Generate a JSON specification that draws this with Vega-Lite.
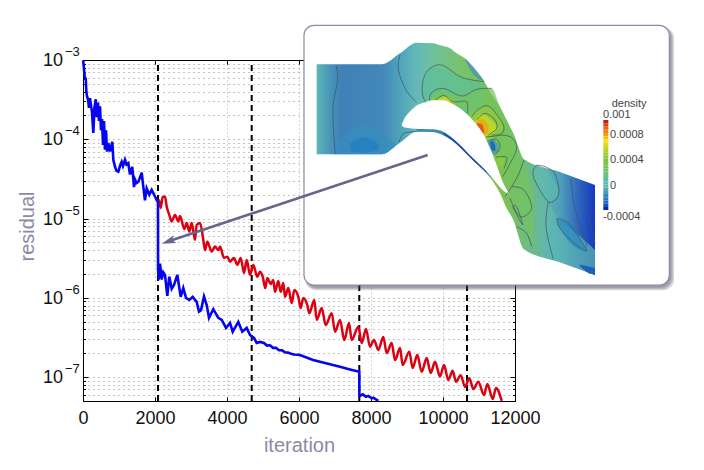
{
  "$schema": "https://vega.github.io/schema/vega-lite/v6.json",
  "description": "Residual history with a density contour inset",
  "autosize": {"type": "none"},
  "padding": {"left": 83, "top": 60, "right": 189, "bottom": 69},
  "width": 432,
  "height": 341,
  "background": "white",
  "config": {"view": {"stroke": null}, "font": "Liberation Sans"},
  "datasets": {
    "red": [
      {"iteration":2083,"residual":1.6e-5},{"iteration":2111,"residual":1.7e-5},{"iteration":2158,"residual":1.36e-5},{"iteration":2214,"residual":1.88e-5},{"iteration":2278,"residual":1.9e-5},{"iteration":2325,"residual":1.42e-5},{"iteration":2397,"residual":1.11e-5},{"iteration":2464,"residual":9.2e-6},{"iteration":2556,"residual":1.11e-5},{"iteration":2647,"residual":9.2e-6},{"iteration":2694,"residual":1.08e-5},{"iteration":2814,"residual":7.4e-6},{"iteration":2881,"residual":8.8e-6},{"iteration":2953,"residual":6.85e-6},{"iteration":3019,"residual":8.8e-6},{"iteration":3111,"residual":5.4e-6},{"iteration":3158,"residual":8.3e-6},{"iteration":3250,"residual":8.8e-6},{"iteration":3342,"residual":5.4e-6},{"iteration":3389,"residual":4.0e-6},{"iteration":3453,"residual":5.1e-6},{"iteration":3575,"residual":3.83e-6},{"iteration":3667,"residual":4.43e-6},{"iteration":3758,"residual":4.0e-6},{"iteration":3806,"residual":4.43e-6},{"iteration":3917,"residual":3.19e-6},{"iteration":4008,"residual":3.31e-6},{"iteration":4083,"residual":2.86e-6},{"iteration":4194,"residual":3.19e-6},{"iteration":4286,"residual":2.6e-6},{"iteration":4381,"residual":3.19e-6},{"iteration":4472,"residual":2.06e-6},{"iteration":4547,"residual":3.0e-6},{"iteration":4639,"residual":1.95e-6},{"iteration":4731,"residual":2.6e-6},{"iteration":4842,"residual":1.84e-6},{"iteration":4917,"residual":2.14e-6},{"iteration":4992,"residual":1.85e-6},{"iteration":5064,"residual":1.33e-6},{"iteration":5119,"residual":1.78e-6},{"iteration":5214,"residual":1.5e-6},{"iteration":5286,"residual":1.68e-6},{"iteration":5333,"residual":1.19e-6},{"iteration":5425,"residual":1.63e-6},{"iteration":5492,"residual":1.19e-6},{"iteration":5564,"residual":1.54e-6},{"iteration":5611,"residual":1.03e-6},{"iteration":5703,"residual":1.33e-6},{"iteration":5797,"residual":8.6e-7},{"iteration":5870,"residual":1.26e-6},{"iteration":5981,"residual":1.03e-6},{"iteration":6047,"residual":7.45e-7},{"iteration":6119,"residual":9.97e-7},{"iteration":6231,"residual":8.1e-7},{"iteration":6286,"residual":6.4e-7},{"iteration":6425,"residual":9.4e-7},{"iteration":6492,"residual":5.26e-7},{"iteration":6631,"residual":7.45e-7},{"iteration":6742,"residual":4.55e-7},{"iteration":6908,"residual":6.4e-7},{"iteration":7000,"residual":3.74e-7},{"iteration":7139,"residual":5.26e-7},{"iteration":7258,"residual":2.94e-7},{"iteration":7389,"residual":4.82e-7},{"iteration":7464,"residual":2.94e-7},{"iteration":7647,"residual":4.33e-7},{"iteration":7742,"residual":2.7e-7},{"iteration":7861,"residual":4.05e-7},{"iteration":7972,"residual":2.42e-7},{"iteration":8083,"residual":2.94e-7},{"iteration":8203,"residual":2.2e-7},{"iteration":8342,"residual":3.2e-7},{"iteration":8436,"residual":2.01e-7},{"iteration":8575,"residual":2.7e-7},{"iteration":8667,"residual":1.64e-7},{"iteration":8806,"residual":2.33e-7},{"iteration":8881,"residual":1.42e-7},{"iteration":9064,"residual":2.09e-7},{"iteration":9158,"residual":1.3e-7},{"iteration":9286,"residual":1.9e-7},{"iteration":9408,"residual":1.17e-7},{"iteration":9547,"residual":1.74e-7},{"iteration":9658,"residual":1.13e-7},{"iteration":9778,"residual":1.56e-7},{"iteration":9917,"residual":1.02e-7},{"iteration":10028,"residual":1.42e-7},{"iteration":10147,"residual":9.2e-8},{"iteration":10269,"residual":1.2e-7},{"iteration":10361,"residual":8.75e-8},{"iteration":10492,"residual":1.06e-7},{"iteration":10611,"residual":7.5e-8},{"iteration":10731,"residual":9.7e-8},{"iteration":10842,"residual":7.07e-8},{"iteration":10981,"residual":8.75e-8},{"iteration":11139,"residual":5.94e-8},{"iteration":11231,"residual":8.2e-8},{"iteration":11381,"residual":5.29e-8},{"iteration":11472,"residual":7.3e-8},{"iteration":11631,"residual":5.03e-8}
    ],
    "blue": [
      {"iteration":5,"residual":9.9e-4},{"iteration":42,"residual":6.5e-4},{"iteration":56,"residual":5.6e-4},{"iteration":75,"residual":6.0e-4},{"iteration":92,"residual":4.0e-4},{"iteration":111,"residual":3.5e-4},{"iteration":139,"residual":3.2e-4},{"iteration":167,"residual":2.5e-4},{"iteration":194,"residual":3.3e-4},{"iteration":222,"residual":2.7e-4},{"iteration":250,"residual":2.2e-4},{"iteration":286,"residual":1.2e-4},{"iteration":319,"residual":2.5e-4},{"iteration":353,"residual":3.2e-4},{"iteration":383,"residual":1.9e-4},{"iteration":417,"residual":2.9e-4},{"iteration":444,"residual":1.7e-4},{"iteration":472,"residual":2.6e-4},{"iteration":500,"residual":1.3e-4},{"iteration":528,"residual":1.8e-4},{"iteration":556,"residual":8.5e-5},{"iteration":583,"residual":1.7e-4},{"iteration":611,"residual":7.4e-5},{"iteration":639,"residual":1.3e-4},{"iteration":667,"residual":7.0e-5},{"iteration":703,"residual":9.0e-5},{"iteration":750,"residual":7.0e-5},{"iteration":814,"residual":9.3e-5},{"iteration":842,"residual":5.5e-5},{"iteration":889,"residual":4.5e-5},{"iteration":931,"residual":4.0e-5},{"iteration":981,"residual":3.9e-5},{"iteration":1028,"residual":4.6e-5},{"iteration":1075,"residual":5.2e-5},{"iteration":1111,"residual":4.6e-5},{"iteration":1167,"residual":5.5e-5},{"iteration":1208,"residual":4.8e-5},{"iteration":1258,"residual":5.0e-5},{"iteration":1306,"residual":3.6e-5},{"iteration":1369,"residual":4.5e-5},{"iteration":1417,"residual":2.5e-5},{"iteration":1444,"residual":3.1e-5},{"iteration":1486,"residual":2.8e-5},{"iteration":1536,"residual":2.9e-5},{"iteration":1631,"residual":3.8e-5},{"iteration":1667,"residual":2.7e-5},{"iteration":1722,"residual":1.7e-5},{"iteration":1769,"residual":2.4e-5},{"iteration":1842,"residual":2.0e-5},{"iteration":1908,"residual":2.3e-5},{"iteration":2000,"residual":1.9e-5},{"iteration":2083,"residual":1.6e-5},{"iteration":2085,"residual":2.4e-6},{"iteration":2100,"residual":1.7e-6},{"iteration":2139,"residual":2.7e-6},{"iteration":2186,"residual":1.7e-6},{"iteration":2231,"residual":2.1e-6},{"iteration":2278,"residual":1.95e-6},{"iteration":2342,"residual":1.06e-6},{"iteration":2397,"residual":1.85e-6},{"iteration":2464,"residual":1.3e-6},{"iteration":2528,"residual":1.45e-6},{"iteration":2620,"residual":1.95e-6},{"iteration":2714,"residual":1.03e-6},{"iteration":2786,"residual":1.33e-6},{"iteration":2861,"residual":1.0e-6},{"iteration":2953,"residual":9.4e-7},{"iteration":3047,"residual":1.03e-6},{"iteration":3158,"residual":8.9e-7},{"iteration":3222,"residual":6.7e-7},{"iteration":3278,"residual":7.0e-7},{"iteration":3361,"residual":1.04e-6},{"iteration":3436,"residual":8.1e-7},{"iteration":3500,"residual":5.6e-7},{"iteration":3620,"residual":7.2e-7},{"iteration":3758,"residual":5.6e-7},{"iteration":3853,"residual":5.26e-7},{"iteration":3972,"residual":4.17e-7},{"iteration":4083,"residual":4.83e-7},{"iteration":4158,"residual":3.74e-7},{"iteration":4314,"residual":4.97e-7},{"iteration":4425,"residual":3.74e-7},{"iteration":4547,"residual":4.17e-7},{"iteration":4639,"residual":3.4e-7},{"iteration":4750,"residual":3.12e-7},{"iteration":4825,"residual":2.7e-7},{"iteration":4917,"residual":2.78e-7},{"iteration":5028,"residual":2.7e-7},{"iteration":5111,"residual":2.5e-7},{"iteration":5194,"residual":2.52e-7},{"iteration":5278,"residual":2.34e-7},{"iteration":5361,"residual":2.34e-7},{"iteration":5444,"residual":2.18e-7},{"iteration":5528,"residual":2.18e-7},{"iteration":5611,"residual":2.06e-7},{"iteration":5694,"residual":2.04e-7},{"iteration":5778,"residual":1.97e-7},{"iteration":5861,"residual":1.93e-7},{"iteration":6028,"residual":1.9e-7},{"iteration":6389,"residual":1.65e-7},{"iteration":6778,"residual":1.49e-7},{"iteration":7139,"residual":1.35e-7},{"iteration":7417,"residual":1.25e-7},{"iteration":7675,"residual":1.17e-7},{"iteration":7677,"residual":5.8e-8},{"iteration":7695,"residual":5.8e-8},{"iteration":7770,"residual":6.06e-8},{"iteration":7861,"residual":5.66e-8},{"iteration":7925,"residual":5.8e-8},{"iteration":8020,"residual":5.4e-8},{"iteration":8065,"residual":5.5e-8},{"iteration":8203,"residual":5.03e-8}
    ],
    "phases": [
      {"iteration":2083,"residual":5e-8,"top":1e-3},
      {"iteration":4686,"residual":5e-8,"top":1e-3},
      {"iteration":7675,"residual":5e-8,"top":1e-3},
      {"iteration":10667,"residual":5e-8,"top":1e-3}
    ],
    "decades": [
      {"iteration":0,"residual":1e-3,"base":"10","power":"−3"},
      {"iteration":0,"residual":1e-4,"base":"10","power":"−4"},
      {"iteration":0,"residual":1e-5,"base":"10","power":"−5"},
      {"iteration":0,"residual":1e-6,"base":"10","power":"−6"},
      {"iteration":0,"residual":1e-7,"base":"10","power":"−7"}
    ],
    "shadow": [
      {"u":16,"u2":1122,"v":22,"v2":811},
      {"u":16,"u2":1118,"v":22,"v2":807},
      {"u":16,"u2":1114,"v":22,"v2":803}
    ],
    "panel": [{"u":12,"u2":1108,"v":16,"v2":795}],
    "passage": [
      {"u":50,"v":133,"v2":403},{"u":245,"v":133,"v2":403},{"u":300,"v":100,"v2":368},{"u":350,"v":68,"v2":335},{"u":400,"v":70,"v2":336},{"u":420,"v":76,"v2":342},{"u":450,"v":85,"v2":357},{"u":470,"v":100,"v2":372},{"u":500,"v":120,"v2":402},{"u":520,"v":143,"v2":422},{"u":550,"v":180,"v2":450},{"u":570,"v":215,"v2":472},{"u":600,"v":260,"v2":520},{"u":620,"v":300,"v2":565},{"u":640,"v":340,"v2":600},{"u":672,"v":418,"v2":688},{"u":780,"v":456,"v2":727},{"u":885,"v":495,"v2":765}
    ],
    "patches": [
      {"g":"ur","density":-0.00012,"u":495,"v":115,"v2":120},{"g":"ur","density":-0.00012,"u":520,"v":140,"v2":163},{"g":"ur","density":-0.00012,"u":552,"v":182,"v2":184},
      {"g":"blob1","density":-0.00014,"u":110,"v":385,"v2":403},{"g":"blob1","density":-0.00014,"u":150,"v":330,"v2":403},{"g":"blob1","density":-0.00014,"u":200,"v":315,"v2":403},{"g":"blob1","density":-0.00014,"u":245,"v":335,"v2":403},{"g":"blob1","density":-0.00014,"u":285,"v":372,"v2":376},
      {"g":"blob2","density":-0.00019,"u":150,"v":370,"v2":392},{"g":"blob2","density":-0.00019,"u":190,"v":352,"v2":398},{"g":"blob2","density":-0.00019,"u":235,"v":372,"v2":390},
      {"g":"g1","density":0.00012,"u":368,"v":190,"v2":245},{"g":"g1","density":0.00012,"u":400,"v":140,"v2":245},{"g":"g1","density":0.00012,"u":450,"v":155,"v2":255},{"g":"g1","density":0.00012,"u":500,"v":178,"v2":285},{"g":"g1","density":0.00012,"u":550,"v":190,"v2":345},
      {"g":"g2","density":0.0003,"u":388,"v":232,"v2":240},{"g":"g2","density":0.0003,"u":425,"v":208,"v2":245},{"g":"g2","density":0.0003,"u":480,"v":228,"v2":272},{"g":"g2","density":0.0003,"u":530,"v":208,"v2":320},{"g":"g2","density":0.0003,"u":575,"v":205,"v2":360},{"g":"g2","density":0.0003,"u":600,"v":262,"v2":400},{"g":"g2","density":0.0003,"u":635,"v":335,"v2":470},{"g":"g2","density":0.0003,"u":660,"v":395,"v2":560},{"g":"g2","density":0.0003,"u":700,"v":520,"v2":680},
      {"g":"y1","density":0.00048,"u":395,"v":238,"v2":240},{"g":"y1","density":0.00048,"u":430,"v":226,"v2":245},{"g":"y1","density":0.00048,"u":468,"v":245,"v2":258},
      {"g":"y2","density":0.00064,"u":415,"v":238,"v2":240},{"g":"y2","density":0.00064,"u":435,"v":232,"v2":243},{"g":"y2","density":0.00064,"u":452,"v":242,"v2":248},
      {"g":"h1","density":0.00046,"u":510,"v":285,"v2":300},{"g":"h1","density":0.00046,"u":530,"v":270,"v2":345},{"g":"h1","density":0.00046,"u":560,"v":260,"v2":362},{"g":"h1","density":0.00046,"u":590,"v":285,"v2":345},{"g":"h1","density":0.00046,"u":612,"v":318,"v2":326},
      {"g":"h2","density":0.00062,"u":525,"v":300,"v2":320},{"g":"h2","density":0.00062,"u":545,"v":282,"v2":350},{"g":"h2","density":0.00062,"u":570,"v":296,"v2":346},{"g":"h2","density":0.00062,"u":590,"v":318,"v2":326},
      {"g":"h3","density":0.0008,"u":530,"v":305,"v2":325},{"g":"h3","density":0.0008,"u":545,"v":296,"v2":345},{"g":"h3","density":0.0008,"u":565,"v":318,"v2":340},
      {"g":"h4","density":0.00096,"u":530,"v":310,"v2":320},{"g":"h4","density":0.00096,"u":545,"v":312,"v2":338},{"g":"h4","density":0.00096,"u":552,"v":330,"v2":340},
      {"g":"cold","density":-0.00012,"u":562,"v":362,"v2":370},{"g":"cold","density":-0.00012,"u":578,"v":358,"v2":402},{"g":"cold","density":-0.00012,"u":596,"v":378,"v2":395},
      {"g":"cold2","density":-0.0003,"u":570,"v":366,"v2":372},{"g":"cold2","density":-0.0003,"u":578,"v":363,"v2":392},{"g":"cold2","density":-0.0003,"u":586,"v":378,"v2":392},
      {"g":"y3","density":0.00045,"u":590,"v":418,"v2":428},{"g":"y3","density":0.00045,"u":600,"v":406,"v2":440},{"g":"y3","density":0.00045,"u":612,"v":420,"v2":430},
      {"g":"band1","density":-0.00022,"u":350,"v":325,"v2":335},{"g":"band1","density":-0.00022,"u":400,"v":327,"v2":336},{"g":"band1","density":-0.00022,"u":450,"v":348,"v2":357},{"g":"band1","density":-0.00022,"u":500,"v":395,"v2":402},{"g":"band1","density":-0.00022,"u":550,"v":440,"v2":450},{"g":"band1","density":-0.00022,"u":575,"v":468,"v2":475},
      {"g":"band2","density":-0.0004,"u":430,"v":337,"v2":342},{"g":"band2","density":-0.0004,"u":470,"v":365,"v2":372},{"g":"band2","density":-0.0004,"u":520,"v":412,"v2":422},{"g":"band2","density":-0.0004,"u":560,"v":452,"v2":458},
      {"g":"lens","density":0.00004,"u":698,"v":435,"v2":445},{"g":"lens","density":0.00004,"u":720,"v":445,"v2":510},{"g":"lens","density":0.00004,"u":745,"v":462,"v2":545},{"g":"lens","density":0.00004,"u":775,"v":505,"v2":525},
      {"g":"w2","density":0.00002,"u":740,"v":545,"v2":712},{"g":"w2","density":0.00002,"u":780,"v":600,"v2":727},{"g":"w2","density":0.00002,"u":830,"v":640,"v2":745},{"g":"w2","density":0.00002,"u":885,"v":690,"v2":765},
      {"g":"r2","density":-0.00016,"u":772,"v":598,"v2":612},{"g":"r2","density":-0.00016,"u":810,"v":612,"v2":668},{"g":"r2","density":-0.00016,"u":850,"v":672,"v2":692},{"g":"r2","density":-0.00016,"u":862,"v":690,"v2":694},
      {"g":"r3","density":-0.00032,"u":838,"v":734,"v2":736},{"g":"r3","density":-0.00032,"u":860,"v":738,"v2":755},{"g":"r3","density":-0.00032,"u":885,"v":745,"v2":765}
    ],
    "blade": [
      {"u":305,"v":315,"v2":316},{"u":312,"v":298,"v2":322},{"u":325,"v":280,"v2":324},{"u":345,"v":260,"v2":326},{"u":370,"v":248,"v2":327},{"u":400,"v":241,"v2":328},{"u":430,"v":241,"v2":335},{"u":450,"v":248,"v2":348},{"u":475,"v":262,"v2":370},{"u":500,"v":282,"v2":395},{"u":525,"v":308,"v2":420},{"u":550,"v":342,"v2":444},{"u":570,"v":385,"v2":466},{"u":590,"v":435,"v2":490},{"u":610,"v":490,"v2":512},{"u":625,"v":516,"v2":522}
    ],
    "contours": [
      {"c":"a","i":0,"u":108,"v":135},{"c":"a","i":1,"u":113,"v":180},{"c":"a","i":2,"u":100,"v":250},{"c":"a","i":3,"u":100,"v":320},{"c":"a","i":4,"u":106,"v":403},
      {"c":"b","i":0,"u":300,"v":105},{"c":"b","i":1,"u":295,"v":150},{"c":"b","i":2,"u":318,"v":210},{"c":"b","i":3,"u":350,"v":248},
      {"c":"c","i":0,"u":552,"v":185},{"c":"c","i":1,"u":485,"v":172},{"c":"c","i":2,"u":425,"v":135},{"c":"c","i":3,"u":385,"v":150},{"c":"c","i":4,"u":368,"v":185},{"c":"c","i":5,"u":368,"v":225},{"c":"c","i":6,"u":378,"v":248},
      {"c":"d","i":0,"u":575,"v":205},{"c":"d","i":1,"u":530,"v":208},{"c":"d","i":2,"u":485,"v":228},{"c":"d","i":3,"u":430,"v":205},{"c":"d","i":4,"u":395,"v":218},{"c":"d","i":5,"u":388,"v":242},
      {"c":"e","i":0,"u":405,"v":240},{"c":"e","i":1,"u":432,"v":226},{"c":"e","i":2,"u":460,"v":245},{"c":"e","i":3,"u":500,"v":245},{"c":"e","i":4,"u":502,"v":280},
      {"c":"f","i":0,"u":515,"v":290},{"c":"f","i":1,"u":535,"v":268},{"c":"f","i":2,"u":565,"v":258},{"c":"f","i":3,"u":595,"v":290},{"c":"f","i":4,"u":612,"v":322},{"c":"f","i":5,"u":600,"v":345},{"c":"f","i":6,"u":560,"v":350},
      {"c":"f2","i":0,"u":530,"v":300},{"c":"f2","i":1,"u":555,"v":280},{"c":"f2","i":2,"u":585,"v":300},{"c":"f2","i":3,"u":590,"v":325},{"c":"f2","i":4,"u":565,"v":345},
      {"c":"g","i":0,"u":350,"v":335},{"c":"g","i":1,"u":312,"v":340},{"c":"g","i":2,"u":297,"v":366},
      {"c":"h","i":0,"u":568,"v":362},{"c":"h","i":1,"u":590,"v":358},{"c":"h","i":2,"u":600,"v":382},{"c":"h","i":3,"u":585,"v":405},
      {"c":"j","i":0,"u":575,"v":345},{"c":"j","i":1,"u":630,"v":350},{"c":"j","i":2,"u":650,"v":385},{"c":"j","i":3,"u":625,"v":440},{"c":"j","i":4,"u":608,"v":470},
      {"c":"k","i":0,"u":588,"v":412},{"c":"k","i":1,"u":620,"v":412},{"c":"k","i":2,"u":612,"v":445},
      {"c":"l","i":0,"u":672,"v":420},{"c":"l","i":1,"u":655,"v":465},{"c":"l","i":2,"u":635,"v":500},{"c":"l","i":3,"u":615,"v":530},
      {"c":"m","i":0,"u":635,"v":500},{"c":"m","i":1,"u":672,"v":510},{"c":"m","i":2,"u":695,"v":565},{"c":"m","i":3,"u":660,"v":590},{"c":"m","i":4,"u":630,"v":535},
      {"c":"n","i":0,"u":638,"v":560},{"c":"n","i":1,"u":668,"v":615},{"c":"n","i":2,"u":650,"v":560},{"c":"n","i":3,"u":638,"v":560},
      {"c":"o","i":0,"u":650,"v":620},{"c":"o","i":1,"u":680,"v":640},{"c":"o","i":2,"u":695,"v":680},
      {"c":"p","i":0,"u":708,"v":436},{"c":"p","i":1,"u":700,"v":470},{"c":"p","i":2,"u":745,"v":545},{"c":"p","i":3,"u":776,"v":522},{"c":"p","i":4,"u":765,"v":462},{"c":"p","i":5,"u":735,"v":440},{"c":"p","i":6,"u":708,"v":436},
      {"c":"q","i":0,"u":745,"v":545},{"c":"q","i":1,"u":738,"v":620},{"c":"q","i":2,"u":760,"v":718},
      {"c":"r","i":0,"u":770,"v":596},{"c":"r","i":1,"u":805,"v":610},{"c":"r","i":2,"u":860,"v":690},{"c":"r","i":3,"u":825,"v":672},{"c":"r","i":4,"u":780,"v":625},{"c":"r","i":5,"u":770,"v":596},
      {"c":"s","i":0,"u":812,"v":476},{"c":"s","i":1,"u":825,"v":565},{"c":"s","i":2,"u":862,"v":680},
      {"c":"t","i":0,"u":845,"v":490},{"c":"t","i":1,"u":868,"v":590},{"c":"t","i":2,"u":885,"v":672},
      {"c":"w","i":0,"u":840,"v":736},{"c":"w","i":1,"u":870,"v":762}
    ],
    "colorbar": [
      {"density":0.001,"u":910,"u2":925,"v":300,"v2":310},{"density":0.00095,"u":910,"u2":925,"v":310,"v2":320},{"density":0.0009,"u":910,"u2":925,"v":320,"v2":329},{"density":0.00085,"u":910,"u2":925,"v":329,"v2":339},{"density":0.0008,"u":910,"u2":925,"v":339,"v2":349},{"density":0.00075,"u":910,"u2":925,"v":349,"v2":358},{"density":0.0007,"u":910,"u2":925,"v":358,"v2":368},{"density":0.00065,"u":910,"u2":925,"v":368,"v2":378},{"density":0.0006,"u":910,"u2":925,"v":378,"v2":387},{"density":0.00055,"u":910,"u2":925,"v":387,"v2":397},{"density":0.0005,"u":910,"u2":925,"v":397,"v2":407},{"density":0.00045,"u":910,"u2":925,"v":407,"v2":416},{"density":0.0004,"u":910,"u2":925,"v":416,"v2":426},{"density":0.00035,"u":910,"u2":925,"v":426,"v2":436},{"density":0.0003,"u":910,"u2":925,"v":436,"v2":445},{"density":0.00025,"u":910,"u2":925,"v":445,"v2":455},{"density":0.0002,"u":910,"u2":925,"v":455,"v2":465},{"density":0.00015,"u":910,"u2":925,"v":465,"v2":474},{"density":0.0001,"u":910,"u2":925,"v":474,"v2":484},{"density":0.00005,"u":910,"u2":925,"v":484,"v2":494},{"density":0,"u":910,"u2":925,"v":494,"v2":503},{"density":-0.00005,"u":910,"u2":925,"v":503,"v2":513},{"density":-0.0001,"u":910,"u2":925,"v":513,"v2":522},{"density":-0.00015,"u":910,"u2":925,"v":522,"v2":532},{"density":-0.0002,"u":910,"u2":925,"v":532,"v2":542},{"density":-0.00025,"u":910,"u2":925,"v":542,"v2":551},{"density":-0.0003,"u":910,"u2":925,"v":551,"v2":561},{"density":-0.0004,"u":910,"u2":925,"v":561,"v2":570}
    ],
    "colorbarText": [
      {"label":"density","u":935,"v":251},
      {"label":"0.001","u":909,"v":286},
      {"label":"0.0008","u":930,"v":344},
      {"label":"0.0004","u":930,"v":421},
      {"label":"0","u":930,"v":498},
      {"label":"-0.0004","u":909,"v":591}
    ],
    "pointer": [{"u":-385,"v":661},{"u":383,"v":405}],
    "pointerHead": [{"u":-394,"v":664}]
  },
  "resolve": {"scale": {"x": "independent", "y": "independent", "color": "independent"}},
  "layer": [
    {
      "encoding": {
        "x": {
          "field": "iteration",
          "type": "quantitative",
          "scale": {"domain": [0, 12000], "nice": false, "zero": false},
          "axis": {
            "title": "iteration",
            "titleFontSize": 20,
            "titleFontWeight": "normal",
            "titleColor": "#8a8aa6",
            "titlePadding": 8,
            "values": [0, 2000, 4000, 6000, 8000, 10000, 12000],
            "format": "d",
            "labelFontSize": 18,
            "labelColor": "#111",
            "labelPadding": 12,
            "labelFlush": false,
            "labelOverlap": false,
            "labelBound": false,
            "tickSize": -4,
            "tickColor": "#000",
            "domainColor": "#000",
            "grid": true,
            "gridColor": "#aaa",
            "gridDash": [1, 3]
          }
        },
        "y": {
          "field": "residual",
          "type": "quantitative",
          "scale": {"type": "log", "domain": [5e-8, 1e-3], "nice": false},
          "axis": {
            "title": "residual",
            "titleFontSize": 20,
            "titleFontWeight": "normal",
            "titleColor": "#8a8aa6",
            "titlePadding": 45,
            "titleY": 166,
            "labels": false,
            "values": [5e-8,6e-8,7e-8,8e-8,9e-8,1e-7,2e-7,3e-7,4e-7,5e-7,6e-7,7e-7,8e-7,9e-7,1e-6,2e-6,3e-6,4e-6,5e-6,6e-6,7e-6,8e-6,9e-6,1e-5,2e-5,3e-5,4e-5,5e-5,6e-5,7e-5,8e-5,9e-5,1e-4,2e-4,3e-4,4e-4,5e-4,6e-4,7e-4,8e-4,9e-4,1e-3],
            "tickSize": {"condition": {"test": "abs(log(datum.value)/LN10-round(log(datum.value)/LN10))<0.01", "value": -5}, "value": -2.5},
            "tickColor": "#000",
            "domainColor": "#000",
            "grid": true,
            "gridColor": "#8c8c8c",
            "gridDash": [1, 4]
          }
        }
      },
      "layer": [
        {
          "data": {"name": "phases"},
          "mark": {"type": "rule", "color": "#000", "strokeWidth": 2, "strokeDash": [6, 4]},
          "encoding": {"y2": {"field": "top"}}
        },
        {
          "data": {"name": "red"},
          "mark": {"type": "line", "color": "#dd0010", "strokeWidth": 2.5, "interpolate": "monotone"}
        },
        {
          "data": {"name": "blue"},
          "mark": {"type": "line", "color": "#0404f0", "strokeWidth": 2.6}
        },
        {
          "data": {"name": "decades"},
          "mark": {"type": "text", "align": "right", "baseline": "middle", "fontSize": 18, "color": "#111", "dx": -20, "dy": 1},
          "encoding": {"text": {"field": "base"}}
        },
        {
          "data": {"name": "decades"},
          "mark": {"type": "text", "align": "left", "baseline": "middle", "fontSize": 13, "color": "#111", "dx": -18, "dy": -8},
          "encoding": {"text": {"field": "power"}}
        }
      ]
    },
    {
      "data": {"name": "decades"},
      "mark": {"type": "point", "opacity": 0},
      "encoding": {
        "x": {
          "field": "iteration",
          "type": "quantitative",
          "scale": {"domain": [0, 12000], "nice": false, "zero": false},
          "axis": {"orient": "top", "title": null, "labels": false, "values": [0, 2000, 4000, 6000, 8000, 10000, 12000], "tickSize": -4, "tickColor": "#000", "domainColor": "#000", "grid": false}
        },
        "y": {
          "field": "residual",
          "type": "quantitative",
          "scale": {"type": "log", "domain": [5e-8, 1e-3], "nice": false},
          "axis": {
            "orient": "right",
            "title": null,
            "labels": false,
            "values": [5e-8,6e-8,7e-8,8e-8,9e-8,1e-7,2e-7,3e-7,4e-7,5e-7,6e-7,7e-7,8e-7,9e-7,1e-6,2e-6,3e-6,4e-6,5e-6,6e-6,7e-6,8e-6,9e-6,1e-5,2e-5,3e-5,4e-5,5e-5,6e-5,7e-5,8e-5,9e-5,1e-4,2e-4,3e-4,4e-4,5e-4,6e-4,7e-4,8e-4,9e-4,1e-3],
            "tickSize": {"condition": {"test": "abs(log(datum.value)/LN10-round(log(datum.value)/LN10))<0.01", "value": -5}, "value": -2.5},
            "tickColor": "#000",
            "domainColor": "#000",
            "grid": false
          }
        }
      }
    },
    {
      "encoding": {
        "x": {"field": "u", "type": "quantitative", "axis": null, "scale": {"domain": [-651, 645], "nice": false, "zero": false}},
        "y": {"field": "v", "type": "quantitative", "axis": null, "scale": {"domain": [1143, 120], "nice": false, "zero": false}}
      },
      "layer": [
        {
          "data": {"name": "shadow"},
          "mark": {"type": "rect", "color": "#445", "opacity": 0.22, "cornerRadius": 11},
          "encoding": {"x2": {"field": "u2"}, "y2": {"field": "v2"}}
        },
        {
          "data": {"name": "panel"},
          "mark": {"type": "rect", "fill": "white", "stroke": "#8a8aa6", "strokeWidth": 1.2, "cornerRadius": 10},
          "encoding": {"x2": {"field": "u2"}, "y2": {"field": "v2"}}
        },
        {
          "data": {"name": "passage"},
          "mark": {
            "type": "area",
            "interpolate": "monotone",
            "fill": {
              "gradient": "linear", "x1": 0, "x2": 1, "y1": 0, "y2": 0,
              "stops": [
                {"offset": 0, "color": "#5fb6b6"},
                {"offset": 0.05, "color": "#4694b8"},
                {"offset": 0.09, "color": "#3f80b8"},
                {"offset": 0.24, "color": "#4388ba"},
                {"offset": 0.3, "color": "#50a4bb"},
                {"offset": 0.36, "color": "#64b9b8"},
                {"offset": 0.42, "color": "#70c09c"},
                {"offset": 0.52, "color": "#78c26c"},
                {"offset": 0.66, "color": "#7cc24c"},
                {"offset": 0.74, "color": "#72be74"},
                {"offset": 0.82, "color": "#62b6a8"},
                {"offset": 0.88, "color": "#4c9cbc"},
                {"offset": 0.94, "color": "#2f66be"},
                {"offset": 1, "color": "#1438c0"}
              ]
            }
          },
          "encoding": {"y2": {"field": "v2"}}
        },
        {
          "data": {"name": "patches"},
          "mark": {"type": "area", "interpolate": "monotone", "opacity": 0.7},
          "encoding": {
            "y2": {"field": "v2"},
            "detail": {"field": "g"},
            "color": {
              "field": "density",
              "type": "quantitative",
              "legend": null,
              "scale": {
                "domain": [-0.0004, -0.00025, -0.0001, 0, 0.0002, 0.0004, 0.0006, 0.0007, 0.00085, 0.001],
                "range": ["#0a22c4", "#2f66be", "#4a9abb", "#63b8b8", "#72c07a", "#80c440", "#c8d820", "#f0e020", "#f08018", "#c81818"]
              }
            }
          }
        },
        {
          "data": {"name": "blade"},
          "mark": {"type": "area", "interpolate": "monotone", "fill": "white"},
          "encoding": {"y2": {"field": "v2"}}
        },
        {
          "data": {"name": "contours"},
          "mark": {"type": "line", "interpolate": "cardinal", "color": "#3d5560", "strokeWidth": 0.9, "opacity": 0.8},
          "encoding": {"detail": {"field": "c"}, "order": {"field": "i"}}
        },
        {
          "data": {"name": "colorbar"},
          "mark": {"type": "rect"},
          "encoding": {
            "x2": {"field": "u2"},
            "y2": {"field": "v2"},
            "color": {"field": "density", "type": "quantitative", "legend": null}
          }
        },
        {
          "data": {"name": "colorbarText"},
          "mark": {"type": "text", "align": "left", "baseline": "middle", "fontSize": 11, "color": "#444"},
          "encoding": {"text": {"field": "label"}}
        },
        {
          "data": {"name": "pointer"},
          "mark": {"type": "line", "color": "#66668a", "strokeWidth": 2.6}
        },
        {
          "data": {"name": "pointerHead"},
          "mark": {"type": "point", "filled": true, "opacity": 1, "color": "#66668a", "size": 220, "angle": 341.5, "shape": "M-1,0 L0.9,-0.55 L0.5,0 L0.9,0.55 Z"}
        }
      ]
    }
  ]
}
